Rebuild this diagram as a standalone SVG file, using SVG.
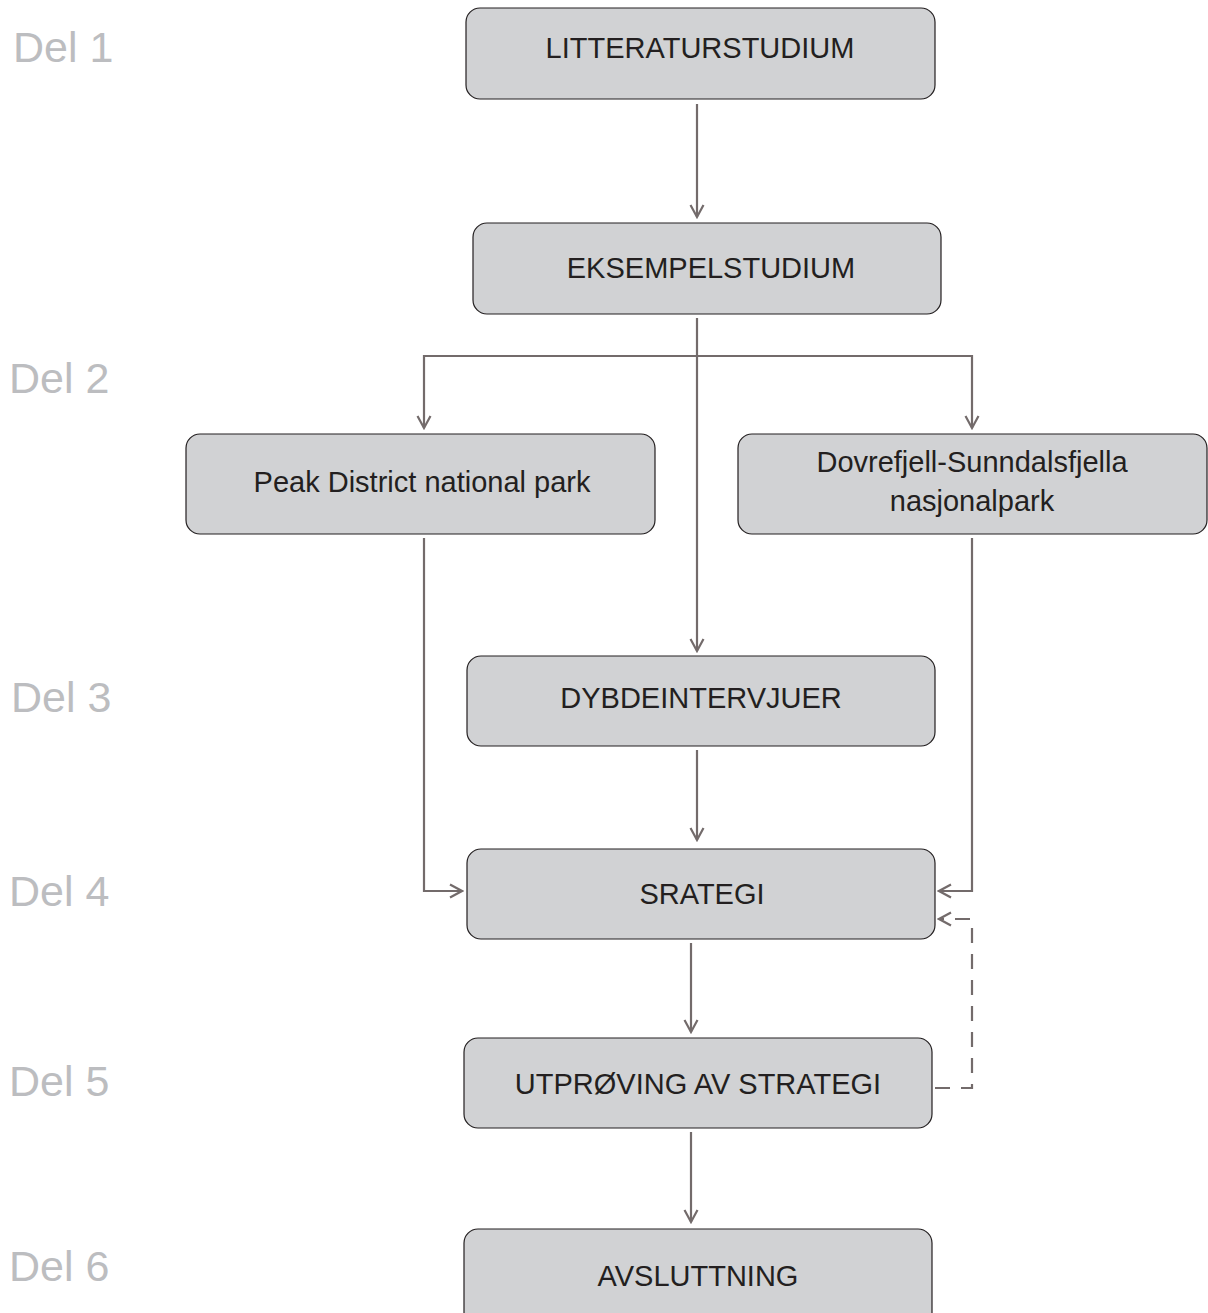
<svg xmlns="http://www.w3.org/2000/svg" width="1208" height="1313" viewBox="0 0 1208 1313">
<style>
.box{fill:#d1d2d4;stroke:#231f20;stroke-width:1.2}
.t{font-family:"Liberation Sans",Arial,sans-serif;font-size:29px;fill:#231f20;text-anchor:middle}
.del{font-family:"Liberation Sans",Arial,sans-serif;font-size:43px;fill:#bcbdc0}
.c{fill:none;stroke:#736b6b;stroke-width:2.2}
.d{stroke-dasharray:15,11}
</style>
<defs>
<marker id="a" viewBox="0 0 16 16" refX="14" refY="8" markerWidth="16" markerHeight="16" markerUnits="userSpaceOnUse" orient="auto">
<polyline points="2,1.5 14,8 2,14.5" fill="none" stroke="#736b6b" stroke-width="2.2"/>
</marker>
</defs>
<rect width="1208" height="1313" fill="#fff"/>
<g id="labels">
<text class="del" x="13" y="62">Del 1</text>
<text class="del" x="9" y="393">Del 2</text>
<text class="del" x="11" y="712">Del 3</text>
<text class="del" x="9" y="906">Del 4</text>
<text class="del" x="9" y="1096">Del 5</text>
<text class="del" x="9" y="1281">Del 6</text>
</g>
<g id="connectors">
<line class="c" x1="697" y1="104" x2="697" y2="217" marker-end="url(#a)"/>
<line class="c" x1="697" y1="318" x2="697" y2="651" marker-end="url(#a)"/>
<polyline class="c" points="697,356 424,356 424,428" marker-end="url(#a)"/>
<polyline class="c" points="697,356 972,356 972,428" marker-end="url(#a)"/>
<polyline class="c" points="424,538 424,891 462,891" marker-end="url(#a)"/>
<polyline class="c" points="972,538 972,891 939,891" marker-end="url(#a)"/>
<line class="c" x1="697" y1="750" x2="697" y2="840" marker-end="url(#a)"/>
<line class="c" x1="691" y1="943" x2="691" y2="1032" marker-end="url(#a)"/>
<line class="c" x1="691" y1="1132" x2="691" y2="1222" marker-end="url(#a)"/>
<polyline class="c d" points="935,1088 972,1088 972,919 939,919" marker-end="url(#a)"/>
</g>
<g id="n1"><rect class="box" x="466" y="8" width="469" height="91" rx="14"/><text class="t" x="700" y="58">LITTERATURSTUDIUM</text></g>
<g id="n2"><rect class="box" x="473" y="223" width="468" height="91" rx="14"/><text class="t" x="711" y="278">EKSEMPELSTUDIUM</text></g>
<g id="n3"><rect class="box" x="186" y="434" width="469" height="100" rx="14"/><text class="t" x="422" y="492">Peak District national park</text></g>
<g id="n4"><rect class="box" x="738" y="434" width="469" height="100" rx="14"/><text class="t" x="972" y="472">Dovrefjell-Sunndalsfjella</text><text class="t" x="972" y="511">nasjonalpark</text></g>
<g id="n5"><rect class="box" x="467" y="656" width="468" height="90" rx="14"/><text class="t" x="701" y="708">DYBDEINTERVJUER</text></g>
<g id="n6"><rect class="box" x="467" y="849" width="468" height="90" rx="14"/><text class="t" x="702" y="904">SRATEGI</text></g>
<g id="n7"><rect class="box" x="464" y="1038" width="468" height="90" rx="14"/><text class="t" x="698" y="1094">UTPRØVING AV STRATEGI</text></g>
<g id="n8"><rect class="box" x="464" y="1229" width="468" height="100" rx="14"/><text class="t" x="698" y="1286">AVSLUTTNING</text></g>
</svg>
